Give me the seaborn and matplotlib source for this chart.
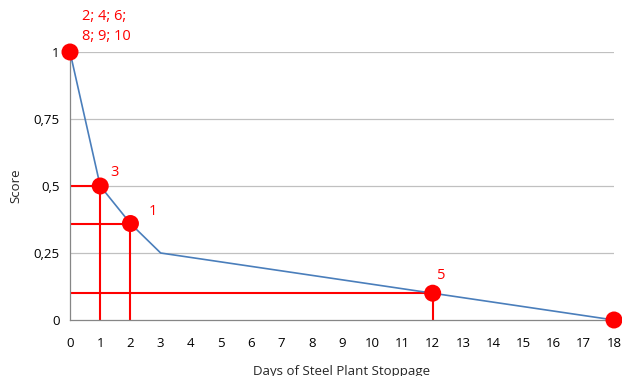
import pandas as pd
import matplotlib
matplotlib.use("Agg")
import matplotlib.pyplot as plt
import seaborn as sns

# Score curve
curve_days = [0, 1, 2, 3, 18]
curve_score = [1, 0.5, 0.36, 0.25, 0]

# Labelled points
point_days = [0, 1, 2, 12, 18]
point_score = [1, 0.5, 0.36, 0.1, 0]
point_labels = ["2; 4; 6;\n8; 9; 10", "3", "1", "5", "7"]

# Points with red guide lines
guide_days = [1, 2, 12]
guide_score = [0.5, 0.36, 0.1]

x_ticks = list(range(0, 19))
y_ticks = [0, 0.25, 0.5, 0.75, 1]
y_tick_labels = ["0", "0,25", "0,5", "0,75", "1"]

sns.set_style("white")
plt.rcParams["font.family"] = ["Open Sans", "DejaVu Sans"]

curve = pd.DataFrame({"days": curve_days, "score": curve_score})
points = pd.DataFrame({"days": point_days, "score": point_score})

fig = plt.figure(figsize=(6.22, 3.76), dpi=100)
ax = fig.add_axes([70 / 622, 56 / 376, 544 / 622, 268 / 376])

# grid
for y in y_ticks[1:]:
    ax.axhline(y, color="#c0c0c0", lw=0.9, zorder=0)

# red guide lines
ax.hlines(guide_score, 0, guide_days, color="#ff0000", lw=1.5, zorder=2)
ax.vlines(guide_days, 0, guide_score, color="#ff0000", lw=1.5, zorder=2)

sns.lineplot(data=curve, x="days", y="score", color="#4a7ebb", lw=1.2,
             ax=ax, zorder=3)
sns.scatterplot(data=points, x="days", y="score", color="#ff0000", s=150,
                edgecolor="none", ax=ax, zorder=4, clip_on=False)

offsets = [(9, 6), (7, 4), (13, 3), (3, 7), (5, 7)]
for d, s, lab, off in zip(point_days, point_score, point_labels, offsets):
    ax.annotate(lab, (d, s), xytext=off, textcoords="offset points",
                color="#ff0000", fontsize=10.5, ha="left", va="bottom",
                linespacing=1.45, annotation_clip=False)

ax.set_xlim(0, 18)
ax.set_ylim(0, 1)
ax.set_xticks(x_ticks)
ax.set_yticks(y_ticks)
ax.set_yticklabels(y_tick_labels)
ax.tick_params(axis="both", labelsize=9.5, colors="#000000", length=4,
               width=0.8, color="#868686", direction="out")
ax.tick_params(axis="x", pad=8)

for side in ["top", "right"]:
    ax.spines[side].set_visible(False)
for side in ["left", "bottom"]:
    ax.spines[side].set_color("#868686")
    ax.spines[side].set_linewidth(0.9)

ax.set_xlabel("Days of Steel Plant Stoppage", fontsize=9.5, labelpad=11)
ax.set_ylabel("Score", fontsize=9.5, labelpad=8)

fig.savefig("out.png", dpi=100)
